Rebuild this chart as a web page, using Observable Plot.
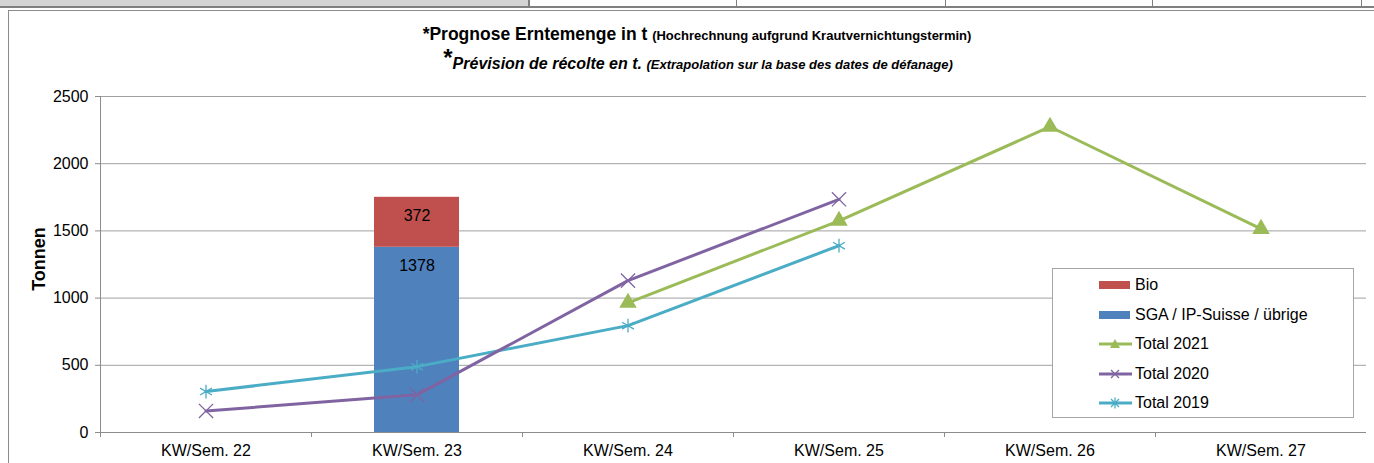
<!DOCTYPE html>
<html><head><meta charset="utf-8">
<script src="https://cdn.jsdelivr.net/npm/d3@7"></script>
<script src="https://cdn.jsdelivr.net/npm/@observablehq/plot@0.6"></script>
<style>
body{margin:0;background:#fff;font-family:"Liberation Sans",Arial,sans-serif;}
#wrap{position:relative;width:1374px;height:463px;overflow:hidden;}
.abs{position:absolute;}
#plot{position:absolute;left:0;top:76px;}
.leg{position:absolute;left:1052px;top:268px;width:300px;height:148px;border:1px solid #a6a6a6;background:#fff;font-size:16px;color:#000;}
.li{position:absolute;left:46px;height:20px;line-height:20px;}
.li svg{position:absolute;left:0;top:3px;}
.li span{position:absolute;left:36px;white-space:nowrap;}
</style></head>
<body><div id="wrap">
<div class="abs" style="left:0;top:0;width:528px;height:6px;background:#d4d4d4;border-bottom:2px solid #7f7f7f;"></div>
<div class="abs" style="left:528px;top:0;width:846px;height:6px;border-bottom:2px solid #7f7f7f;"></div>
<div class="abs" style="left:528px;top:0;width:2px;height:8px;background:#7f7f7f;"></div>
<div class="abs" style="left:736px;top:0;width:1px;height:8px;background:#7f7f7f;"></div>
<div class="abs" style="left:945px;top:0;width:1px;height:8px;background:#7f7f7f;"></div>
<div class="abs" style="left:1152px;top:0;width:1px;height:8px;background:#7f7f7f;"></div>
<div class="abs" style="left:1361px;top:0;width:1px;height:8px;background:#7f7f7f;"></div>
<div class="abs" style="left:8px;top:10px;width:1380px;height:470px;border:1px solid #8c8c8c;"></div>
<div class="abs" style="left:0;width:1394px;top:24px;text-align:center;font-weight:bold;font-size:17.5px;white-space:nowrap;">*Prognose Erntemenge in t <span style="font-size:13px;">(Hochrechnung aufgrund Krautvernichtungstermin)</span></div>
<div class="abs" style="left:0;width:1396px;top:53px;text-align:center;font-weight:bold;font-style:italic;font-size:16px;white-space:nowrap;"><span style="font-size:24px;position:relative;top:-3px;font-style:normal;line-height:16px;">*</span>Prévision de récolte en t. <span style="font-size:13px;">(Extrapolation sur la base des dates de défanage)</span></div>
<div class="abs" style="left:39px;top:259px;transform:translate(-50%,-50%) rotate(-90deg);font-weight:bold;font-size:18px;white-space:nowrap;">Tonnen</div>
<div id="plot"></div>
<div class="leg" id="leg"></div>
</div>
<script>
const categories = ["KW/Sem. 22","KW/Sem. 23","KW/Sem. 24","KW/Sem. 25","KW/Sem. 26","KW/Sem. 27"];
const barWeek = ["KW/Sem. 23","KW/Sem. 23"];
const barSeries = ["SGA / IP-Suisse / übrige","Bio"];
const barValues = [1378, 372];
const total2021 = [null, null, 965, 1575, 2275, 1515];
const total2020 = [160, 280, 1130, 1735, null, null];
const total2019 = [305, 490, 795, 1390, null, null];
const yTicks = [0,500,1000,1500,2000,2500];
const colors = {"Bio":"#C0504D","SGA / IP-Suisse / übrige":"#4F81BD","Total 2021":"#9BBB59","Total 2020":"#8064A2","Total 2019":"#4BACC6"};

const bars = barSeries.map((s,i)=>({week:barWeek[i], series:s, value:barValues[i]}));
let acc=0; const barLabels = bars.map(b=>{acc+=b.value; return {week:b.week, top:acc, label:String(b.value)};});
function mk(name, arr){return categories.map((c,i)=>({week:c, value:arr[i], series:name})).filter(d=>d.value!=null);}
const l21 = mk("Total 2021", total2021), l20 = mk("Total 2020", total2020), l19 = mk("Total 2019", total2019);

const W = 1374, bw = (W-100-8)/categories.length;
const chart = Plot.plot({
  width: W, height: 387,
  marginLeft: 100, marginRight: 8, marginTop: 20, marginBottom: 31,
  style: {fontFamily: "'Liberation Sans', Arial, sans-serif", fontSize: "16px", background: "transparent", color: "#000"},
  x: {domain: categories, padding: 0, label: null},
  y: {domain: [0,2500], ticks: yTicks, label: null},
  marks: [
    Plot.gridY(yTicks, {stroke: "#a0a0a0", strokeOpacity: 1, strokeWidth: 1}),
    Plot.axisY({ticks: yTicks, tickSize: 5, tickPadding: 7, stroke: "#8c8c8c", fontSize: 16, label: null, tickFormat: d=>String(d)}),
    Plot.axisX({tickSize: 0, tickPadding: 12, fontSize: 16, label: null}),
    Plot.ruleX(categories, {x: d=>d, y1: 0, y2: 0, insetBottom: -5, dx: -bw/2, stroke: "#8c8c8c"}),
    Plot.frame({anchor: "left", stroke: "#8c8c8c"}),
    Plot.barY(bars, Plot.stackY({x: "week", y: "value", fill: d=>colors[d.series], insetLeft: 63, insetRight: 63, order: barSeries})),
    Plot.text(barLabels, {x: "week", y: "top", text: "label", dy: 19, fontSize: 16, fill: "#000"}),
    Plot.line(l19, {x: "week", y: "value", stroke: colors["Total 2019"], strokeWidth: 3}),
    Plot.dot(l19, {x: "week", y: "value", symbol: "asterisk", r: 6.5, stroke: colors["Total 2019"], strokeWidth: 1.3}),
    Plot.line(l20, {x: "week", y: "value", stroke: colors["Total 2020"], strokeWidth: 3}),
    Plot.dot(l20, {x: "week", y: "value", symbol: "times", r: 6.5, stroke: colors["Total 2020"], strokeWidth: 1.3}),
    Plot.line(l21, {x: "week", y: "value", stroke: colors["Total 2021"], strokeWidth: 3}),
    Plot.dot(l21, {x: "week", y: "value", symbol: "triangle", r: 6.5, fill: colors["Total 2021"], stroke: "none"}),
    Plot.ruleY([0], {stroke: "#8c8c8c"})
  ]
});
document.getElementById("plot").appendChild(chart);

const legendItems = [
  {name:"Bio", type:"rect"},
  {name:"SGA / IP-Suisse / übrige", type:"rect"},
  {name:"Total 2021", type:"line", sym:"triangle"},
  {name:"Total 2020", type:"line", sym:"times"},
  {name:"Total 2019", type:"line", sym:"asterisk"}
];
const leg = document.getElementById("leg");
legendItems.forEach((it,i)=>{
  const d = document.createElement("div"); d.className="li"; d.style.top=(6+i*29.6)+"px";
  const c = colors[it.name];
  let svg;
  if(it.type==="rect") svg = `<svg width="34" height="14"><rect x="0" y="3" width="31" height="8" fill="${c}"/></svg>`;
  else {
    let m = "";
    if(it.sym==="triangle") m = `<path d="M16,2 L21,11 L11,11 Z" fill="${c}"/>`;
    else if(it.sym==="times") m = `<path d="M12,3 L20,11 M20,3 L12,11" stroke="${c}" stroke-width="1.3"/>`;
    else m = `<path d="M12,3 L20,11 M20,3 L12,11 M16,1.5 L16,12.5" stroke="${c}" stroke-width="1.3"/>`;
    svg = `<svg width="34" height="14"><line x1="0" y1="7" x2="33" y2="7" stroke="${c}" stroke-width="3"/>${m}</svg>`;
  }
  d.innerHTML = svg + `<span>${it.name}</span>`;
  leg.appendChild(d);
});
</script>
</body></html>
